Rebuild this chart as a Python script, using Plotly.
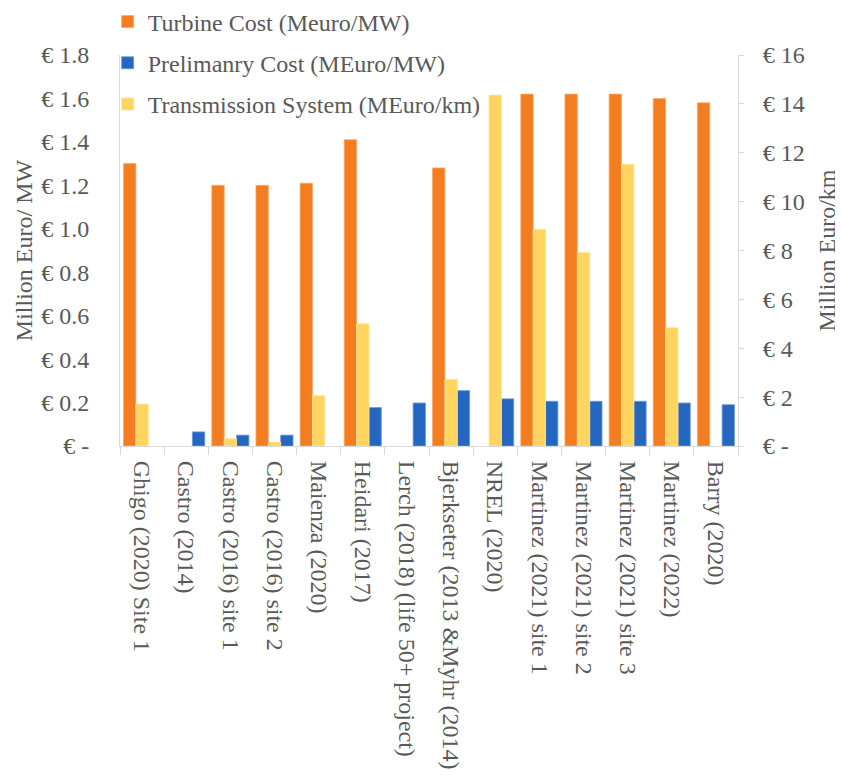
import plotly.graph_objects as go

categories = [
    "Ghigo (2020) Site 1", "Castro (2014)", "Castro (2016) site 1", "Castro (2016) site 2",
    "Maienza (2020)", "Heidari (2017)", "Lerch (2018) (life 50+ project)",
    "Bjerkseter (2013 &Myhr (2014)", "NREL (2020)", "Martinez (2021) site 1",
    "Martinez (2021) site 2", "Martinez (2021) site 3", "Martinez (2022)", "Barry (2020)",
]
turbine_cost = [1.30, None, 1.20, 1.20, 1.21, 1.41, None, 1.28, None, 1.62, 1.62, 1.62, 1.60, 1.58]
preliminary_cost = [None, 0.065, 0.05, 0.05, None, 0.177, 0.198, 0.255, 0.217, 0.206, 0.206, 0.206, 0.198, 0.19]
transmission_cost = [1.72, None, 0.30, 0.16, 2.06, 5.0, None, 2.72, 14.36, 8.86, 7.92, 11.53, 4.84, None]

left_ticks = [0, 0.2, 0.4, 0.6, 0.8, 1.0, 1.2, 1.4, 1.6, 1.8]
left_labels = ["€ -", "€ 0.2", "€ 0.4", "€ 0.6", "€ 0.8", "€ 1.0", "€ 1.2", "€ 1.4", "€ 1.6", "€ 1.8"]
right_ticks = [0, 2, 4, 6, 8, 10, 12, 14, 16]
right_labels = ["€ -", "€ 2", "€ 4", "€ 6", "€ 8", "€ 10", "€ 12", "€ 14", "€ 16"]

FONT = "Liberation Serif, Times New Roman, serif"
TXT = "#595959"
GRID = "#D9D9D9"
W = 0.28

fig = go.Figure()
fig.add_trace(go.Bar(
    x=categories, y=turbine_cost, name="Turbine Cost (Meuro/MW)",
    marker=dict(color="#F47D20", line=dict(color="#F9A868", width=0.8)),
    width=W, offset=-1.5 * W, yaxis="y", legendgroup="a",
))
fig.add_trace(go.Bar(
    x=categories, y=preliminary_cost, name="Prelimanry Cost (MEuro/MW)",
    marker=dict(color="#2466C0", line=dict(color="#6F9BDA", width=0.8)),
    width=W, offset=0.5 * W, yaxis="y", legendgroup="b",
))
fig.add_trace(go.Bar(
    x=categories, y=transmission_cost, name="Transmission System (MEuro/km)",
    marker=dict(color="#FFD55F", line=dict(color="#FFE49A", width=0.8)),
    width=W, offset=-0.5 * W, yaxis="y2", legendgroup="c",
))

fig.update_layout(
    width=835, height=768,
    margin=dict(l=112, r=105, t=47, b=330, autoexpand=False),
    paper_bgcolor="white", plot_bgcolor="white",
    barmode="overlay",
    font=dict(family=FONT, size=24, color=TXT),
    showlegend=True,
    legend=dict(
        x=-0.02, y=1.142, xanchor="left", yanchor="top",
        bgcolor="rgba(0,0,0,0)", traceorder="grouped", tracegroupgap=7,
        font=dict(family=FONT, size=24, color=TXT),
    ),
    xaxis=dict(
        type="category", tickangle=90, tickson="boundaries", ticks="outside",
        ticklen=8, tickcolor=GRID, showline=True, linecolor=GRID, linewidth=1,
        showgrid=False, tickfont=dict(family=FONT, size=24, color=TXT),
        ticklabelstandoff=9, automargin=False,
    ),
    yaxis=dict(
        range=[0, 1.8], tickvals=left_ticks, ticktext=left_labels,
        showgrid=False, zeroline=False, showline=True, linecolor=GRID, linewidth=1,
        ticks="", ticklabelstandoff=25,
        title=dict(text="Million Euro/ MW", standoff=1, font=dict(family=FONT, size=24, color=TXT)),
        tickfont=dict(family=FONT, size=24, color=TXT), automargin=False,
    ),
    yaxis2=dict(
        range=[0, 16], tickvals=right_ticks, ticktext=right_labels,
        overlaying="y", side="right", showgrid=False, zeroline=False,
        showline=True, linecolor=GRID, linewidth=1,
        ticks="outside", ticklen=5, tickcolor=GRID, ticklabelstandoff=14,
        title=dict(text="Million Euro/km", standoff=14, font=dict(family=FONT, size=24, color=TXT)),
        tickfont=dict(family=FONT, size=24, color=TXT), automargin=False,
    ),
)

fig.write_html("out.html")
